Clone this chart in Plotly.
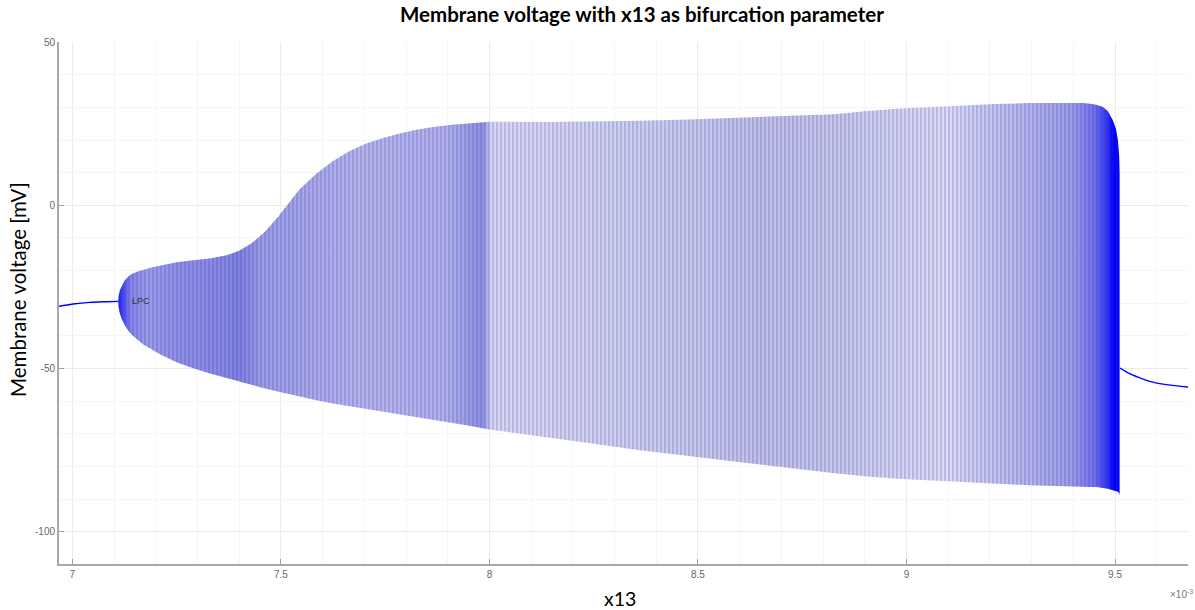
import plotly.graph_objects as go

# ---------------- data (x13 in units of 1e-3, voltage in mV) ----------------
# stable equilibrium branch before the limit point of cycles (LPC)
left_x = [6.968, 7.002, 7.042, 7.082, 7.110]
left_v = [-30.9, -30.2, -29.7, -29.5, -29.4]

# stable equilibrium branch after the Hopf point
right_x = [9.512, 9.530, 9.551, 9.583, 9.623, 9.675]
right_v = [-49.8, -51.2, -52.4, -53.9, -54.9, -55.6]

# limit-cycle family envelope: max and min of membrane voltage
cyc_x = [7.110, 7.111, 7.114, 7.119, 7.124, 7.130, 7.140, 7.155, 7.170, 7.190,
         7.210, 7.250, 7.290, 7.330, 7.370, 7.400, 7.430, 7.460, 7.490, 7.520,
         7.545, 7.585, 7.625, 7.665, 7.705, 7.745, 7.785, 7.825, 7.865, 7.905,
         7.945, 8.000, 8.133, 8.250, 8.361, 8.480, 8.600, 8.720, 8.828, 8.900,
         8.976, 9.060, 9.135, 9.215, 9.295, 9.360, 9.423, 9.440, 9.455, 9.471,
         9.483, 9.495, 9.502, 9.507, 9.510, 9.511]
cyc_max = [-29.4, -27.6, -26.0, -24.4, -23.3, -22.3, -21.2, -20.3, -19.7, -19.0,
           -18.5, -17.4, -16.8, -16.3, -15.3, -13.9, -11.6, -8.3, -4.0, 0.9,
           4.9, 9.7, 13.6, 16.6, 18.9, 20.6, 22.0, 23.1, 24.0, 24.6,
           25.0, 25.6, 25.5, 25.6, 25.9, 26.3, 26.8, 27.3, 27.9, 28.8,
           29.6, 30.1, 30.6, 31.0, 31.3, 31.4, 31.3, 31.1, 30.8, 30.1,
           28.8, 26.0, 23.5, 19.9, 15.0, 10.0]
cyc_min = [-29.4, -31.3, -33.2, -35.0, -36.3, -37.6, -39.3, -41.0, -42.6, -44.2,
           -45.6, -48.0, -49.9, -51.5, -53.0, -54.0, -55.0, -56.0, -56.9, -57.8,
           -58.6, -59.7, -60.7, -61.6, -62.5, -63.3, -64.1, -64.9, -65.7, -66.5,
           -67.3, -68.6, -71.0, -73.0, -75.0, -76.9, -78.6, -80.4, -82.0, -82.9,
           -83.7, -84.2, -84.7, -85.2, -85.7, -85.9, -86.1, -86.2, -86.2, -86.5,
           -86.8, -87.2, -87.4, -87.7, -88.2, -88.8]

x_ticks = [7, 7.5, 8, 8.5, 9, 9.5]
x_tick_text = ["7", "7.5", "8", "8.5", "9", "9.5"]
y_ticks = [50, 0, -50, -100]
y_tick_text = ["50", "0", "-50", "-100"]

lpc_x, lpc_v = 7.164, -29.4

# shading of the cycle family (density of drawn cycles), position -> colour
shade_x = [7.110, 7.125, 7.140, 7.180, 7.250, 7.330, 7.400, 7.450, 7.550, 7.700,
           7.900, 7.985, 8.005, 8.200, 8.450, 8.650, 8.850, 8.950, 9.100, 9.200,
           9.300, 9.400, 9.450, 9.480, 9.495, 9.511]
shade_c = ["#1a1aff", "#5050f0", "#8484ea", "#9c9cec", "#9090e8", "#8a8ae6",
           "#8080e2", "#9a9ae8", "#a6a6ea", "#b6b6ee", "#b0b0ec", "#8e8ee4",
           "#d8d8f4", "#d4d4f2", "#cacaee", "#c0c0e8", "#c8c8ec", "#d2d2f2",
           "#dcdcf6", "#c6c6f0", "#b2b2ec", "#9a9ae8", "#7070ee", "#3434f6",
           "#0000ff", "#0000ff"]

# ---------------- figure ----------------
poly_x = cyc_x + cyc_x[::-1]
poly_y = cyc_max + cyc_min[::-1]

x0, x1 = shade_x[0], shade_x[-1]
colorscale = [[(sx - x0) / (x1 - x0), c] for sx, c in zip(shade_x, shade_c)]

fig = go.Figure()

fig.add_trace(go.Scatter(
    x=poly_x, y=poly_y, mode="lines", fill="toself",
    line=dict(width=0, color="rgba(0,0,255,0)"),
    fillgradient=dict(type="horizontal", colorscale=colorscale, start=x0, stop=x1),
    hoverinfo="skip", showlegend=False))

fig.add_trace(go.Scatter(
    x=poly_x, y=poly_y, mode="lines", fill="toself",
    line=dict(width=0, color="rgba(0,0,255,0)"),
    fillcolor="rgba(0,0,0,0)",
    fillpattern=dict(shape="|", size=4, solidity=0.3,
                     fgcolor="rgb(60,60,150)", fgopacity=0.35,
                     bgcolor="rgba(0,0,0,0)"),
    hoverinfo="skip", showlegend=False))

fig.add_trace(go.Scatter(x=left_x, y=left_v, mode="lines",
                         line=dict(color="#0000ff", width=1.4, shape="spline"),
                         showlegend=False))
fig.add_trace(go.Scatter(x=right_x, y=right_v, mode="lines",
                         line=dict(color="#0000ff", width=1.4, shape="spline"),
                         showlegend=False))

fig.add_annotation(x=lpc_x, y=lpc_v, text="LPC", showarrow=False,
                   font=dict(family="Liberation Sans", size=9, color="#333"))

fig.add_annotation(text="Membrane voltage with x13 as bifurcation parameter",
                   xref="paper", yref="paper", x=(642 - 59) / 1129, y=(564 - 14) / 522,
                   xanchor="center", yanchor="middle", showarrow=False,
                   font=dict(family="Lato", size=20.5, color="#000", weight="bold"))
fig.add_annotation(text="Membrane voltage [mV]", textangle=-90,
                   xref="paper", yref="paper", x=(18 - 59) / 1129, y=(564 - 290) / 522,
                   xanchor="center", yanchor="middle", showarrow=False,
                   font=dict(family="Lato", size=20.5, color="#000"))
fig.add_annotation(text="x13", xref="paper", yref="paper",
                   x=(620 - 59) / 1129, y=(564 - 598) / 522,
                   xanchor="center", yanchor="middle", showarrow=False,
                   font=dict(family="Lato", size=19.5, color="#000"))
fig.add_annotation(text="×10<sup>-3</sup>", xref="paper", yref="paper",
                   x=(1195 - 59) / 1129, y=(564 - 594) / 522,
                   xanchor="right", yanchor="middle", showarrow=False,
                   font=dict(family="Liberation Sans", size=10, color="#777"))

axis_common = dict(
    showline=True, linecolor="#a8a8a8", linewidth=2, mirror=False,
    ticks="inside", ticklen=5, tickcolor="#a0a0a0", tickwidth=1,
    showgrid=True, gridcolor="#ebebeb", gridwidth=1, zeroline=False,
    tickfont=dict(family="Liberation Sans", size=10, color="#666"),
)

fig.update_xaxes(range=[6.968, 9.675], tickmode="array", tickvals=x_ticks,
                 ticktext=x_tick_text,
                 minor=dict(dtick=0.1, tick0=7, showgrid=True, gridcolor="#f5f5f5",
                            ticks=""),
                 **axis_common)
fig.update_yaxes(range=[-109.8, 50], tickmode="array", tickvals=y_ticks,
                 ticktext=y_tick_text,
                 minor=dict(dtick=10, tick0=0, showgrid=True, gridcolor="#f5f5f5",
                            ticks=""),
                 **axis_common)

fig.update_layout(width=1195, height=610, plot_bgcolor="white", paper_bgcolor="white",
                  margin=dict(l=59, r=7, t=42, b=46), showlegend=False)

fig.write_html("out.html")
